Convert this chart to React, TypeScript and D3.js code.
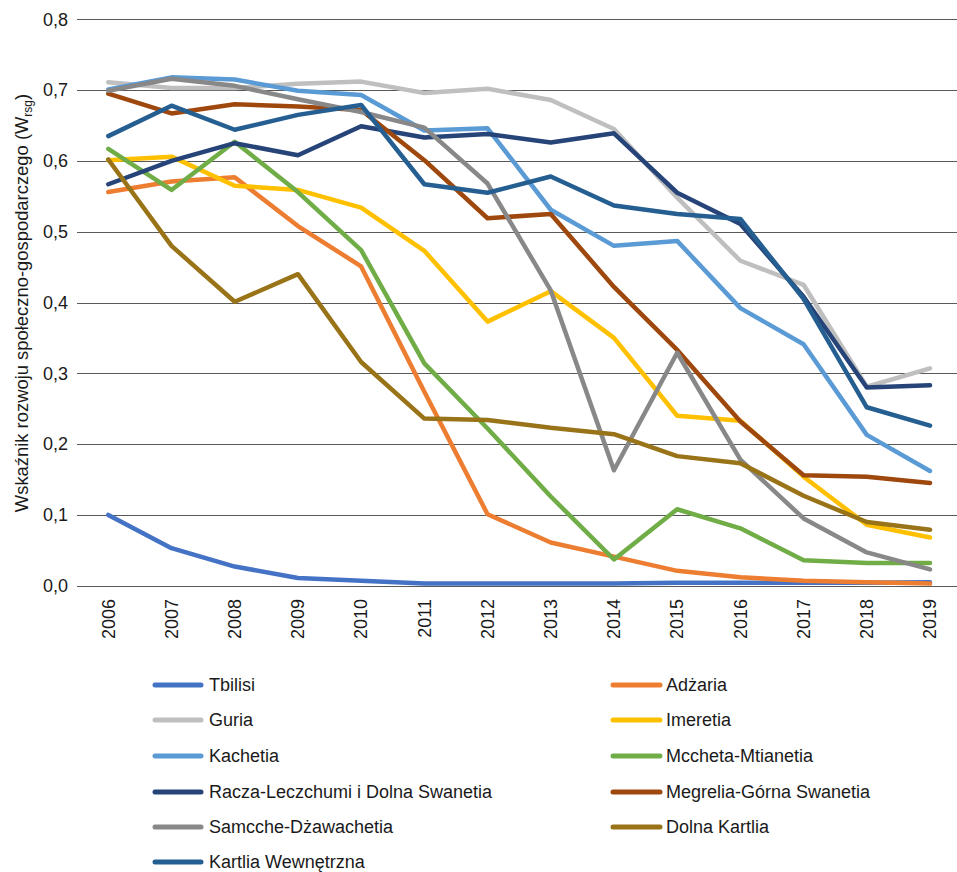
import React from "react";
import * as d3 from "d3";

const years = ["2006","2007","2008","2009","2010","2011","2012","2013","2014","2015","2016","2017","2018","2019"];
const seriesNames = [
  "Tbilisi", "Adżaria", "Guria", "Imeretia", "Kachetia", "Mccheta-Mtianetia",
  "Racza-Leczchumi i Dolna Swanetia", "Megrelia-Górna Swanetia", "Samcche-Dżawachetia",
  "Dolna Kartlia", "Kartlia Wewnętrzna",
];
const seriesColors = [
  "#4472C4", "#ED7D31", "#BFBFBF", "#FFC000", "#5B9BD5", "#70AD47",
  "#264478", "#9E480E", "#888888", "#997318", "#255E91",
];
const tbilisi = [0.100, 0.053, 0.027, 0.011, 0.007, 0.003, 0.003, 0.003, 0.003, 0.004, 0.004, 0.004, 0.004, 0.005];
const adzaria = [0.556, 0.571, 0.577, 0.508, 0.451, 0.274, 0.101, 0.061, 0.041, 0.021, 0.012, 0.007, 0.005, 0.003];
const guria = [0.711, 0.703, 0.703, 0.709, 0.712, 0.696, 0.702, 0.686, 0.645, 0.548, 0.459, 0.425, 0.281, 0.307];
const imeretia = [0.601, 0.606, 0.565, 0.559, 0.534, 0.473, 0.373, 0.416, 0.350, 0.240, 0.233, 0.154, 0.086, 0.068];
const kachetia = [0.701, 0.718, 0.715, 0.699, 0.693, 0.643, 0.646, 0.531, 0.480, 0.487, 0.392, 0.341, 0.213, 0.162];
const mccheta = [0.617, 0.559, 0.627, 0.556, 0.474, 0.314, 0.222, 0.126, 0.037, 0.108, 0.081, 0.036, 0.032, 0.032];
const racza = [0.567, 0.600, 0.625, 0.608, 0.649, 0.633, 0.638, 0.626, 0.639, 0.555, 0.511, 0.408, 0.280, 0.283];
const megrelia = [0.695, 0.667, 0.680, 0.677, 0.672, 0.601, 0.519, 0.525, 0.422, 0.333, 0.232, 0.156, 0.154, 0.145];
const samcche = [0.699, 0.716, 0.706, 0.687, 0.669, 0.647, 0.568, 0.417, 0.163, 0.329, 0.178, 0.095, 0.047, 0.023];
const dolnaKartlia = [0.602, 0.480, 0.401, 0.440, 0.316, 0.236, 0.234, 0.223, 0.214, 0.183, 0.173, 0.127, 0.090, 0.079];
const kartliaW = [0.635, 0.678, 0.644, 0.665, 0.679, 0.567, 0.555, 0.578, 0.537, 0.525, 0.518, 0.405, 0.252, 0.226];
const seriesValues = [tbilisi, adzaria, guria, imeretia, kachetia, mccheta, racza, megrelia, samcche, dolnaKartlia, kartliaW];
const yTicks = [0, 0.1, 0.2, 0.3, 0.4, 0.5, 0.6, 0.7, 0.8];

const W = 957, H = 872;
const FONT = "'Liberation Sans', Arial, sans-serif";

export default function App() {
  const x = d3.scalePoint<string>().domain(years).range([108.3, 930]);
  const y = d3.scaleLinear().domain([0, 0.8]).range([585.7, 19.3]);
  const line = d3.line<number>().x((_, i) => x(years[i]) as number).y((d) => y(d));
  const fmt = (v: number) => d3.format(".1f")(v).replace(".", ",");

  const legendRows = [685, 720, 756, 792, 827, 862];
  const legendCols = [{ x0: 155, x1: 201, tx: 209 }, { x0: 613, x1: 660, tx: 666 }];

  return (
    <svg width={W} height={H} style={{ position: "absolute", left: 0, top: 0, background: "#fff" }} fontFamily={FONT}>
      <rect width={W} height={H} fill="#fff" />
      {yTicks.map((t) => (
        <g key={t}>
          <line x1={77} x2={W} y1={Math.round(y(t)) + 0.5} y2={Math.round(y(t)) + 0.5} stroke="#595959" strokeWidth={1} />
          <text x={68} y={y(t)} dy="0.35em" textAnchor="end" fontSize={18} fill="#1a1a1a">{fmt(t)}</text>
        </g>
      ))}
      {years.map((yr) => (
        <text key={yr} transform={`translate(${x(yr)},599) rotate(-90)`} textAnchor="end" dy="0.35em" fontSize={18} fill="#1a1a1a">{yr}</text>
      ))}
      <text transform={`translate(28,303) rotate(-90)`} textAnchor="middle" fontSize={18.4} fill="#1a1a1a">
        Wskaźnik rozwoju społeczno-gospodarczego (W<tspan fontSize={12} dy={4}>rsg</tspan><tspan dy={-4}>)</tspan>
      </text>
      {seriesValues.map((vals, i) => (
        <path key={seriesNames[i]} d={line(vals) as string} fill="none" stroke={seriesColors[i]} strokeWidth={4.5} strokeLinejoin="round" strokeLinecap="round" />
      ))}
      {seriesNames.map((name, i) => {
        const col = legendCols[i % 2];
        const ry = legendRows[Math.floor(i / 2)];
        return (
          <g key={name}>
            <line x1={col.x0} x2={col.x1} y1={ry} y2={ry} stroke={seriesColors[i]} strokeWidth={5} strokeLinecap="round" />
            <text x={col.tx} y={ry} dy="0.33em" fontSize={18} fill="#1a1a1a">{name}</text>
          </g>
        );
      })}
    </svg>
  );
}
